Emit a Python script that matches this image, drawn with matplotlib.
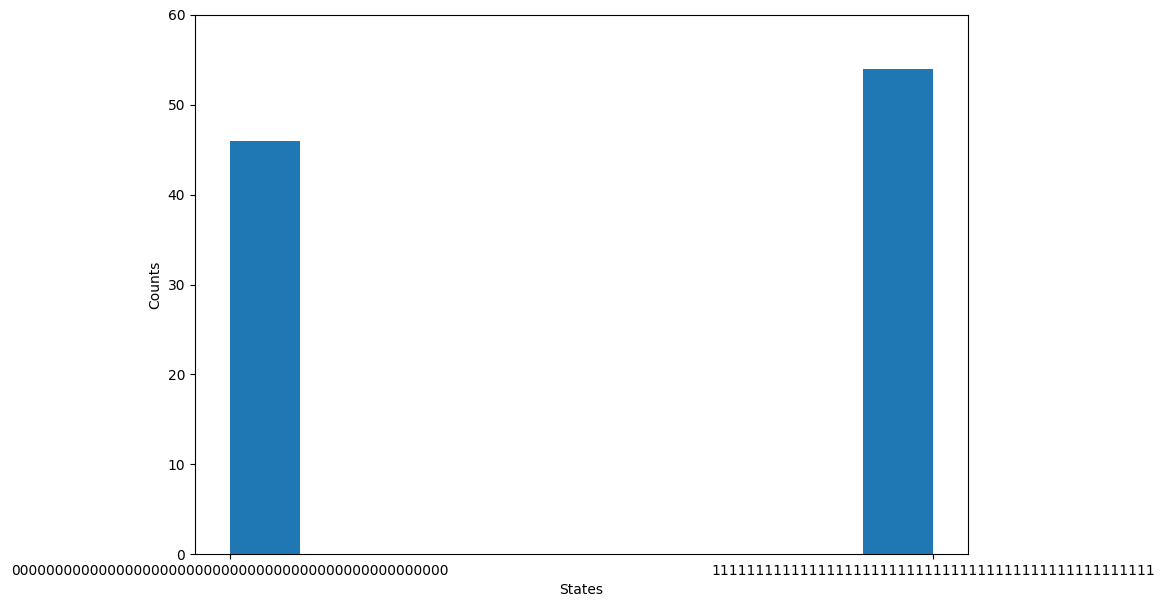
import numpy as np
import matplotlib
matplotlib.use('Agg')
import matplotlib.pyplot as plt

# measured states and their counts
states = ['0' * 50, '1' * 50]
counts = [46, 54]

fig = plt.figure(figsize=(11.65, 6.07), dpi=100)
ax = fig.add_axes([0.1674, 0.0873, 0.6635, 0.888])

# histogram of the state indices, weighted by counts
positions = np.arange(len(states))
ax.hist(positions, bins=10, weights=counts, color='#1f77b4')

ax.set_xticks(positions)
ax.set_xticklabels(states)
ax.set_ylim(0, 60)
ax.set_xlabel('States')
ax.set_ylabel('Counts')

fig.savefig('out.png', dpi=100)
